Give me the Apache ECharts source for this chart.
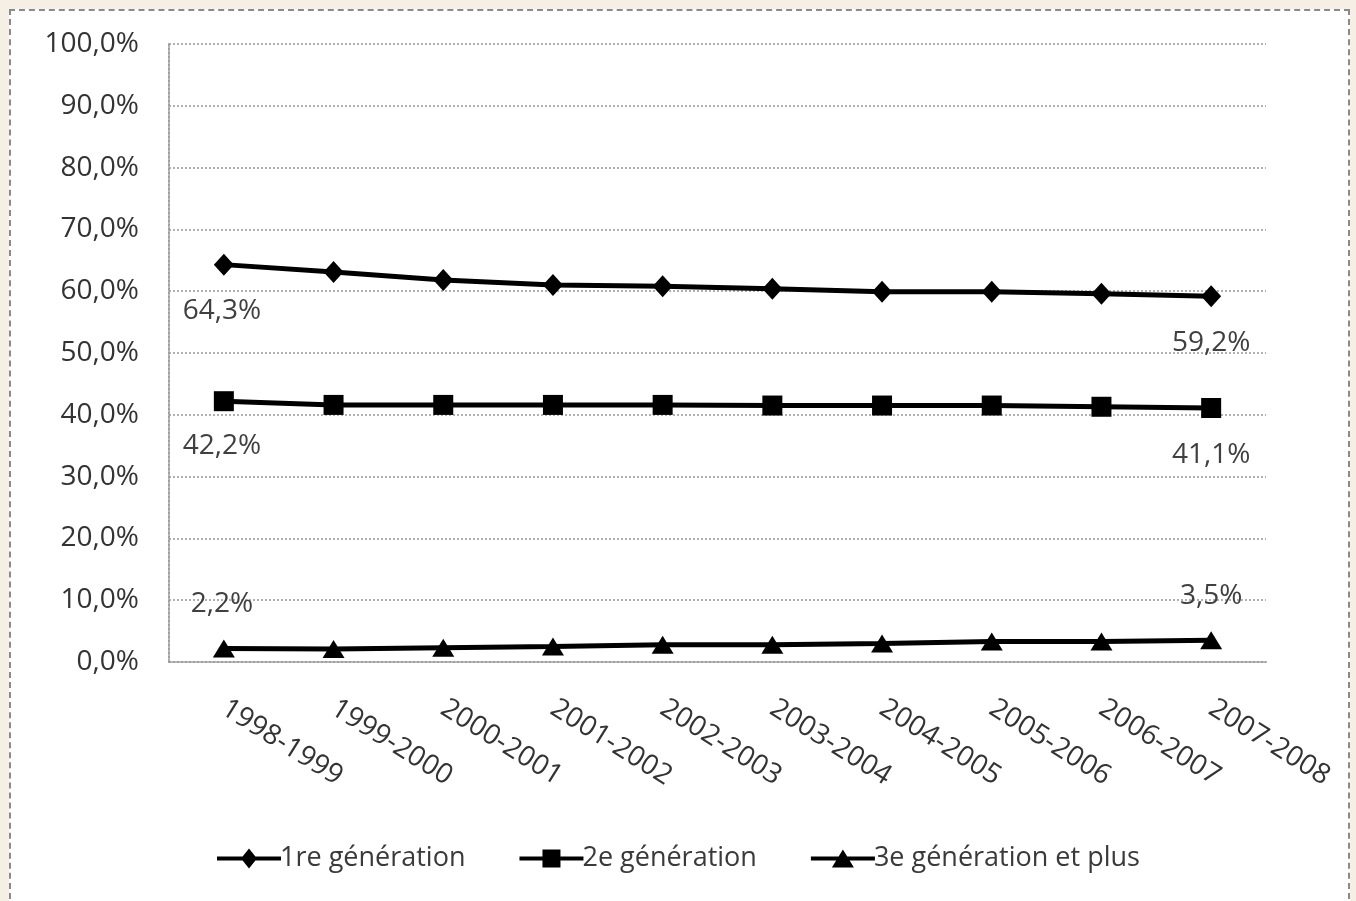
<!DOCTYPE html>
<html>
<head>
<meta charset="utf-8">
<script src="https://cdn.jsdelivr.net/npm/echarts@6/dist/echarts.min.js"></script>
<style>
html,body{margin:0;padding:0;background:#f5efe5;}
#frame{position:absolute;left:9px;top:9px;width:1341px;height:900px;background:#fff;border:2px dashed #8a8a8a;border-bottom:none;box-sizing:border-box;}
#chart{position:absolute;left:0;top:0;width:1356px;height:901px;}
</style>
</head>
<body>
<div id="frame"></div>
<div id="chart"></div>
<script>
const categories = ['1998-1999','1999-2000','2000-2001','2001-2002','2002-2003','2003-2004','2004-2005','2005-2006','2006-2007','2007-2008'];
const seriesNames = ['1re génération','2e génération','3e génération et plus'];
const gen1 = [64.3, 63.1, 61.8, 61.0, 60.8, 60.4, 59.9, 59.9, 59.6, 59.2];
const gen2 = [42.2, 41.6, 41.6, 41.6, 41.6, 41.5, 41.5, 41.5, 41.3, 41.1];
const gen3 = [2.2, 2.1, 2.3, 2.5, 2.8, 2.8, 3.0, 3.3, 3.3, 3.5];

const FONT = 'Open Sans';
const fmt = v => v.toFixed(1).replace('.', ',') + '%';

function buildData(values, firstOffset, lastOffset) {
  return values.map((v, i) => {
    if (i === 0 || i === values.length - 1) {
      return {
        value: v,
        label: {
          show: true,
          position: 'inside',
          offset: i === 0 ? firstOffset : lastOffset,
          formatter: p => fmt(p.value),
          color: '#404040',
          fontSize: 28,
          fontFamily: FONT
        }
      };
    }
    return v;
  });
}

const legendIcons = [
  'path://M0,8L64,8L64,12L0,12Z M32,0L40,10L32,20L24,10Z',
  'path://M0,8L64,8L64,12L0,12Z M23,1L41,1L41,19L23,19Z',
  'path://M0,8L64,8L64,12L0,12Z M32,1L43,19L21,19Z'
];

const chart = echarts.init(document.getElementById('chart'), null, {renderer: 'canvas'});
const common = {
  type: 'line',
  lineStyle: {color: '#000', width: 5},
  itemStyle: {color: '#000'},
  emphasis: {disabled: true},
  animation: false
};
chart.setOption({
  backgroundColor: 'transparent',
  animation: false,
  grid: {left: 169, right: 90, top: 44, bottom: 239},
  legend: {
    bottom: 24,
    left: 212,
    itemWidth: 64,
    itemHeight: 20,
    itemGap: 54,
    textStyle: {color: '#3a3a3a', fontSize: 27, fontFamily: FONT, padding: [0, 0, 0, -6]},
    data: seriesNames.map((n, i) => ({name: n, icon: legendIcons[i]}))
  },
  xAxis: {
    type: 'category',
    data: categories,
    boundaryGap: true,
    axisLine: {lineStyle: {color: '#a0a0a0', width: 2, type: 'dotted'}},
    axisTick: {show: false},
    axisLabel: {rotate: -32, margin: 44, color: '#333', fontSize: 28, fontFamily: FONT}
  },
  yAxis: {
    type: 'value',
    min: 0, max: 100, interval: 10,
    axisLine: {show: true, lineStyle: {color: '#a0a0a0', width: 2, type: 'dotted'}},
    axisTick: {show: false},
    splitLine: {lineStyle: {color: '#b0b0b0', width: 2, type: 'dotted'}},
    axisLabel: {formatter: v => v.toFixed(1).replace('.', ',') + '%', margin: 30, color: '#333', fontSize: 28, fontFamily: FONT}
  },
  series: [
    Object.assign({}, common, {name: seriesNames[0], symbol: 'diamond', symbolSize: [20, 22], data: buildData(gen1, [-2, 46], [0, 47])}),
    Object.assign({}, common, {name: seriesNames[1], symbol: 'rect', symbolSize: 20, data: buildData(gen2, [-2, 45], [0, 47])}),
    Object.assign({}, common, {name: seriesNames[2], symbol: 'triangle', symbolSize: [22, 18], data: buildData(gen3, [-2, -44], [0, -44])})
  ]
});
</script>
</body>
</html>
